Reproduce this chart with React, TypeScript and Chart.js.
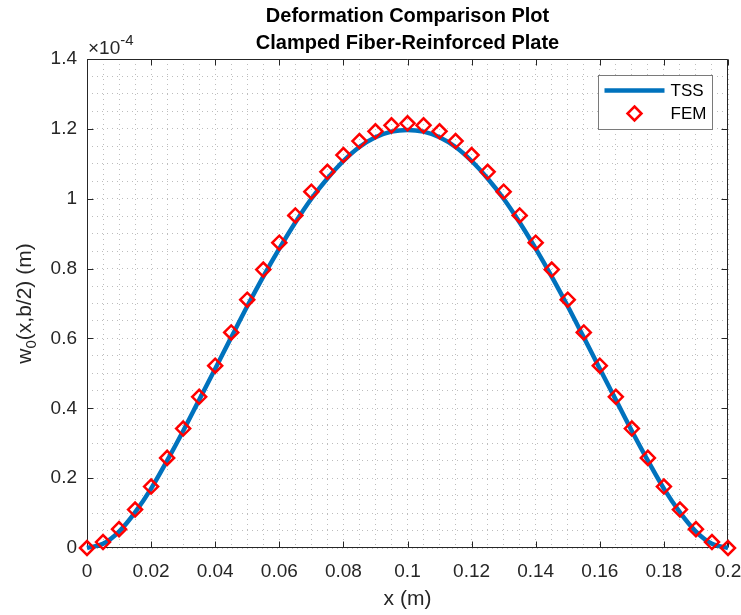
import React, { useEffect, useRef } from "react";
import { Chart, registerables } from "chart.js";

Chart.register(...registerables);

// ---------- data ----------
const xPositions = [
  0, 0.005, 0.01, 0.015, 0.02, 0.025, 0.03, 0.035, 0.04, 0.045,
  0.05, 0.055, 0.06, 0.065, 0.07, 0.075, 0.08, 0.085, 0.09, 0.095,
  0.1, 0.105, 0.11, 0.115, 0.12, 0.125, 0.13, 0.135, 0.14, 0.145,
  0.15, 0.155, 0.16, 0.165, 0.17, 0.175, 0.18, 0.185, 0.19, 0.195, 0.2,
];

// deflection in units of 1e-4 m
const tssDeflection = [
  0, 0.012, 0.047, 0.102, 0.17, 0.25, 0.335, 0.424, 0.513, 0.603,
  0.692, 0.777, 0.857, 0.932, 1.0, 1.058, 1.108, 1.148, 1.176, 1.192,
  1.197, 1.192, 1.176, 1.148, 1.108, 1.058, 1.0, 0.932, 0.857, 0.777,
  0.692, 0.603, 0.513, 0.424, 0.335, 0.25, 0.17, 0.102, 0.047, 0.012, 0,
];

const femDeflection = [
  0, 0.017, 0.054, 0.11, 0.176, 0.258, 0.342, 0.433, 0.522, 0.617,
  0.711, 0.797, 0.874, 0.952, 1.02, 1.077, 1.125, 1.165, 1.193, 1.21,
  1.216, 1.21, 1.193, 1.165, 1.125, 1.077, 1.02, 0.952, 0.874, 0.797,
  0.711, 0.617, 0.522, 0.433, 0.342, 0.258, 0.176, 0.11, 0.054, 0.017, 0,
];

const xMajorTicks = [0, 0.02, 0.04, 0.06, 0.08, 0.1, 0.12, 0.14, 0.16, 0.18, 0.2];
const yMajorTicks = [0, 0.2, 0.4, 0.6, 0.8, 1, 1.2, 1.4];
const xMinorStep = 0.005;
const yMinorStep = 0.05;

const titleLines = ["Deformation Comparison Plot", "Clamped Fiber-Reinforced Plate"];
const seriesLabels = ["TSS", "FEM"];
const xAxisLabel = "x (m)";
const yAxisLabelParts = ["w", "0", "(x,b/2) (m)"];
const yExponentParts = ["\u00d710", "-4"];

// ---------- styles ----------
const FONT = '"Liberation Sans", Arial, Helvetica, sans-serif';
const AXIS_COLOR = "#262626";
const TSS_COLOR = "#0072BD";
const FEM_COLOR = "#FF0000";

const isMajor = (v: number, list: number[]) => list.some((t) => Math.abs(t - v) < 1e-9);

const decorPlugin = {
  id: "decor",
  beforeDatasetsDraw(chart: any) {
    const { ctx, chartArea: a, scales } = chart;
    const L = Math.round(a.left) + 0.5;
    const R = Math.round(a.right) - 0.5;
    const T = Math.round(a.top) + 0.5;
    const B = Math.round(a.bottom) - 0.5;
    ctx.save();
    ctx.strokeStyle = AXIS_COLOR;
    ctx.lineWidth = 1;
    ctx.beginPath();
    ctx.rect(L, T, R - L, B - T);
    ctx.stroke();
    const tl = 6;
    ctx.beginPath();
    xMajorTicks.forEach((v) => {
      const px = Math.round(scales.x.getPixelForValue(v)) + 0.5;
      ctx.moveTo(px, B);
      ctx.lineTo(px, B - tl);
      ctx.moveTo(px, T);
      ctx.lineTo(px, T + tl);
    });
    yMajorTicks.forEach((v) => {
      const py = Math.round(scales.y.getPixelForValue(v)) + 0.5;
      ctx.moveTo(L, py);
      ctx.lineTo(L + tl, py);
      ctx.moveTo(R, py);
      ctx.lineTo(R - tl, py);
    });
    ctx.stroke();
    ctx.restore();
  },
  afterDraw(chart: any) {
    const { ctx, chartArea: a } = chart;
    const cx = (a.left + a.right) / 2;
    const cy = (a.top + a.bottom) / 2;
    ctx.save();

    // title
    ctx.fillStyle = "#000";
    ctx.textAlign = "center";
    ctx.textBaseline = "alphabetic";
    ctx.font = `bold 20px ${FONT}`;
    ctx.fillText(titleLines[0], cx, a.top - 37);
    ctx.fillText(titleLines[1], cx, a.top - 10);

    // exponent label
    ctx.fillStyle = AXIS_COLOR;
    ctx.textAlign = "left";
    ctx.font = `19px ${FONT}`;
    const baseW = ctx.measureText(yExponentParts[0]).width;
    ctx.fillText(yExponentParts[0], a.left + 1, a.top - 5);
    ctx.font = `15px ${FONT}`;
    ctx.fillText(yExponentParts[1], a.left + 1 + baseW, a.top - 14);

    // x axis label
    ctx.textAlign = "center";
    ctx.font = `21px ${FONT}`;
    ctx.fillText(xAxisLabel, cx, a.bottom + 57);

    // y axis label (rotated, with subscript)
    ctx.save();
    ctx.translate(31, cy);
    ctx.rotate(-Math.PI / 2);
    ctx.textAlign = "left";
    ctx.font = `21px ${FONT}`;
    const w1 = ctx.measureText(yAxisLabelParts[0]).width;
    const w3 = ctx.measureText(yAxisLabelParts[2]).width;
    ctx.font = `15px ${FONT}`;
    const w2 = ctx.measureText(yAxisLabelParts[1]).width;
    const total = w1 + w2 + w3;
    let xx = -total / 2;
    ctx.font = `21px ${FONT}`;
    ctx.fillText(yAxisLabelParts[0], xx, 0);
    xx += w1;
    ctx.font = `15px ${FONT}`;
    ctx.fillText(yAxisLabelParts[1], xx, 5);
    xx += w2;
    ctx.font = `21px ${FONT}`;
    ctx.fillText(yAxisLabelParts[2], xx, 0);
    ctx.restore();

    // legend
    const bx = Math.round(a.right) - 129.5;
    const by = Math.round(a.top) + 16.5;
    const bw = 114;
    const bh = 54;
    ctx.fillStyle = "#fff";
    ctx.fillRect(bx, by, bw, bh);
    ctx.strokeStyle = "#7a7a7a";
    ctx.lineWidth = 1;
    ctx.strokeRect(bx, by, bw, bh);
    // TSS entry
    ctx.strokeStyle = TSS_COLOR;
    ctx.lineWidth = 4.5;
    ctx.beginPath();
    ctx.moveTo(bx + 6, by + 15);
    ctx.lineTo(bx + 66, by + 15);
    ctx.stroke();
    // FEM entry
    const dx = bx + 36;
    const dy = by + 38;
    const r = 7;
    ctx.strokeStyle = FEM_COLOR;
    ctx.lineWidth = 2.5;
    ctx.beginPath();
    ctx.moveTo(dx, dy - r);
    ctx.lineTo(dx + r, dy);
    ctx.lineTo(dx, dy + r);
    ctx.lineTo(dx - r, dy);
    ctx.closePath();
    ctx.stroke();
    ctx.fillStyle = "#000";
    ctx.font = `17px ${FONT}`;
    ctx.textAlign = "left";
    ctx.textBaseline = "middle";
    ctx.fillText(seriesLabels[0], bx + 72, by + 16);
    ctx.fillText(seriesLabels[1], bx + 72, by + 39);

    ctx.restore();
  },
};

export default function App() {
  const canvasRef = useRef<HTMLCanvasElement | null>(null);

  useEffect(() => {
    if (!canvasRef.current) return;
    const gridColor = "rgba(38,38,38,0.3)";
    const chart = new Chart(canvasRef.current, {
      type: "line",
      data: {
        datasets: [
          {
            label: seriesLabels[0],
            data: xPositions.map((x, i) => ({ x, y: tssDeflection[i] })),
            borderColor: TSS_COLOR,
            backgroundColor: TSS_COLOR,
            borderWidth: 4.5,
            pointRadius: 0,
            cubicInterpolationMode: "monotone",
            clip: false,
            order: 2,
          },
          {
            label: seriesLabels[1],
            data: xPositions.map((x, i) => ({ x, y: femDeflection[i] })),
            showLine: false,
            pointStyle: "rectRot",
            pointRadius: 7,
            pointBorderWidth: 2.5,
            pointBorderColor: FEM_COLOR,
            pointBackgroundColor: "rgba(0,0,0,0)",
            borderColor: FEM_COLOR,
            clip: false,
            order: 1,
          },
        ],
      },
      options: {
        animation: false,
        responsive: false,
        maintainAspectRatio: false,
        layout: { padding: { left: 0, top: 59, right: 13, bottom: 0 } },
        plugins: {
          legend: { display: false },
          tooltip: { enabled: false },
          title: { display: false },
        },
        scales: {
          x: {
            type: "linear",
            min: 0,
            max: 0.2,
            afterFit: (s: any) => {
              s.height = 67;
              s.paddingLeft = 0;
              s.paddingRight = 0;
            },
            border: { display: false, dash: [1, 4] },
            grid: { color: gridColor, lineWidth: 1, drawTicks: false },
            ticks: {
              stepSize: xMinorStep,
              autoSkip: false,
              maxRotation: 0,
              minRotation: 0,
              padding: 12,
              color: AXIS_COLOR,
              font: { family: FONT, size: 19 },
              callback: (v: any) =>
                isMajor(Number(v), xMajorTicks) ? String(Number(Number(v).toFixed(3))) : "",
            },
          },
          y: {
            type: "linear",
            min: 0,
            max: 1.4,
            afterFit: (s: any) => {
              s.width = 87;
              s.paddingTop = 0;
              s.paddingBottom = 0;
            },
            border: { display: false, dash: [1, 4] },
            grid: { color: gridColor, lineWidth: 1, drawTicks: false },
            ticks: {
              stepSize: yMinorStep,
              autoSkip: false,
              padding: 10,
              color: AXIS_COLOR,
              font: { family: FONT, size: 19 },
              callback: (v: any) =>
                isMajor(Number(v), yMajorTicks) ? String(Number(Number(v).toFixed(2))) : "",
            },
          },
        },
      },
      plugins: [decorPlugin],
    } as any);
    return () => chart.destroy();
  }, []);

  return (
    <div style={{ position: "absolute", left: 0, top: 0, width: 741, height: 615, background: "#fff" }}>
      <canvas ref={canvasRef} width={741} height={615} />
    </div>
  );
}
